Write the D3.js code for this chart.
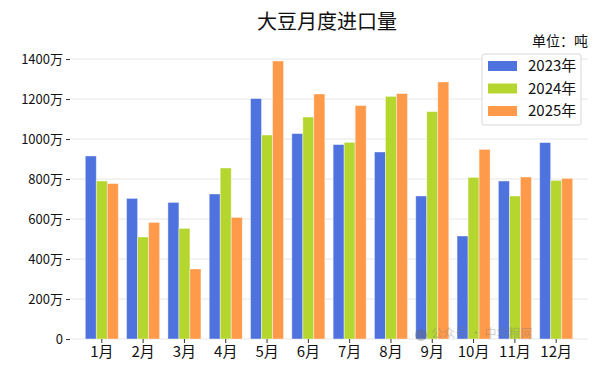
<!DOCTYPE html>
<html>
<head>
<meta charset="utf-8">
<script src="https://cdn.jsdelivr.net/npm/d3@7"></script>
<style>
  body { margin: 0; background: #fff; }
  text { font-family: "Noto Sans CJK SC", "Noto Sans", sans-serif; }
</style>
</head>
<body>
<div id="chart"></div>
<script>
// données (unité : 万吨)
const months = ["1月", "2月", "3月", "4月", "5月", "6月", "7月", "8月", "9月", "10月", "11月", "12月"];
const seriesNames = ["2023年", "2024年", "2025年"];
const values2023 = [915, 703, 683, 725, 1202, 1027, 972, 935, 715, 515, 790, 982];
const values2024 = [790, 510, 553, 855, 1020, 1110, 983, 1213, 1137, 808, 715, 793];
const values2025 = [777, 583, 350, 608, 1390, 1225, 1167, 1227, 1285, 948, 810, 803];
const yTicks = [0, 200, 400, 600, 800, 1000, 1200, 1400];
const colors = ["#4f73de", "#b5d62f", "#ff9a4a"];

const allSeries = [values2023, values2024, values2025];
const data = months.map((m, i) => ({ month: m, vals: allSeries.map(s => s[i]) }));

const W = 609, H = 377;
const margin = { top: 59, right: 21, bottom: 38, left: 70 };
const width = W - margin.left - margin.right;
const height = H - margin.top - margin.bottom;

const svgRoot = d3.select("#chart").append("svg")
    .attr("width", W)
    .attr("height", H);

const svg = svgRoot.append("g")
    .attr("transform", `translate(${margin.left},${margin.top})`);

// échelles
const x = d3.scaleBand().domain(months).range([0, width]).paddingInner(0.2).paddingOuter(0.37);
const xs = d3.scaleBand().domain(seriesNames).range([0, x.bandwidth()]);
const y = d3.scaleLinear().domain([0, 1400]).range([height, 0]);

// grille horizontale
svg.append("g")
    .selectAll("line")
    .data(yTicks)
    .join("line")
    .attr("x1", 0).attr("x2", width)
    .attr("y1", d => y(d)).attr("y2", d => y(d))
    .attr("stroke", "#e6e6e6")
    .attr("stroke-width", 1);

// barres
const groups = svg.append("g")
    .selectAll("g")
    .data(data)
    .join("g")
    .attr("transform", d => `translate(${x(d.month)},0)`);

groups.selectAll("rect")
    .data(d => d.vals.map((v, k) => ({ key: seriesNames[k], v, k })))
    .join("rect")
    .attr("x", d => xs(d.key))
    .attr("width", xs.bandwidth())
    .attr("y", d => y(d.v))
    .attr("height", d => y(0) - y(d.v))
    .attr("fill", d => colors[d.k])
    .attr("stroke", "#fff")
    .attr("stroke-opacity", 0.5)
    .attr("stroke-width", 0.8);

// axe Y
const yAxis = svg.append("g")
    .call(d3.axisLeft(y).tickValues(yTicks).tickSize(4).tickPadding(3)
        .tickFormat(d => d === 0 ? "0" : d + "万"));
yAxis.select(".domain").remove();
yAxis.selectAll("line").attr("stroke", "#333");
yAxis.selectAll("text").attr("font-size", 13).attr("fill", "#111");

// axe X
const xAxis = svg.append("g")
    .attr("transform", `translate(0,${height})`)
    .call(d3.axisBottom(x).tickSize(4).tickPadding(3));
xAxis.select(".domain").remove();
xAxis.selectAll("line").attr("stroke", "#333");
xAxis.selectAll("text").attr("font-size", 15).attr("fill", "#111");

// titre
svgRoot.append("text")
    .attr("x", 327).attr("y", 29)
    .attr("text-anchor", "middle")
    .attr("font-size", 20)
    .attr("fill", "#111")
    .text("大豆月度进口量");

svgRoot.append("text")
    .attr("x", 588).attr("y", 46)
    .attr("text-anchor", "end")
    .attr("font-size", 14)
    .attr("fill", "#111")
    .text("单位：吨");

// légende
const legend = svgRoot.append("g").attr("transform", "translate(482,54)");
legend.append("rect")
    .attr("width", 99).attr("height", 71)
    .attr("rx", 2)
    .attr("fill", "#fff")
    .attr("fill-opacity", 0.85)
    .attr("stroke", "#d8d8d8");

const items = legend.selectAll("g.item")
    .data(seriesNames)
    .join("g")
    .attr("class", "item")
    .attr("transform", (d, i) => `translate(6,${12 + i * 22.5})`);

items.append("rect")
    .attr("x", 0).attr("y", -5)
    .attr("width", 29).attr("height", 10)
    .attr("fill", (d, i) => colors[i]);

items.append("text")
    .attr("x", 40).attr("y", 0)
    .attr("dy", "0.36em")
    .attr("font-size", 15)
    .attr("fill", "#111")
    .text(d => d);

// filigrane
const wm = svgRoot.append("g").attr("opacity", 0.35);
wm.append("circle").attr("cx", 421).attr("cy", 335).attr("r", 6).attr("fill", "#666");
wm.append("text")
    .attr("x", 431).attr("y", 338)
    .attr("font-size", 12)
    .attr("fill", "#777")
    .text("公众号 · 中华粮网");
</script>
</body>
</html>
